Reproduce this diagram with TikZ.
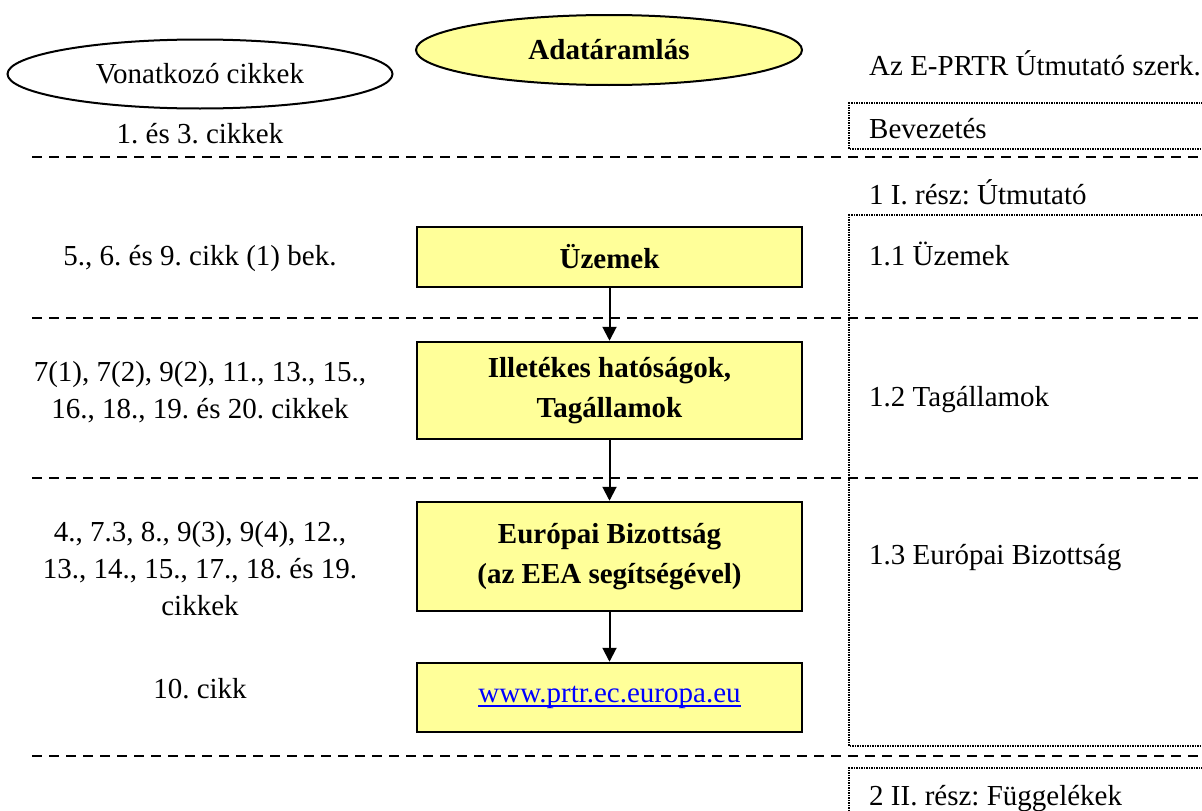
\documentclass[tikz,border=0pt]{standalone}
\usepackage{fontspec}
\setmainfont{Liberation Serif}
\usepackage{tikz}
\usetikzlibrary{positioning}
\usetikzlibrary{shapes.geometric}
\usetikzlibrary{arrows.meta}

\definecolor{boxyellow}{RGB}{255,255,153}
\definecolor{linkblue}{RGB}{0,0,255}
\frenchspacing
\newcommand{\weblink}[1]{{\color{linkblue}\setbox0\hbox{#1}\rlap{\rule[-4pt]{\wd0}{2pt}}\box0}}

\begin{document}
\begin{tikzpicture}
		[x=1pt, y=-1pt,
		 every node/.style={font=\fontsize{29}{37}\selectfont},
		 flowbox/.style={draw=black, line width=2.5pt, fill=boxyellow, minimum width=385pt, inner sep=0pt, align=center, font=\fontsize{29}{40}\selectfont\bfseries},
		 oval/.style={ellipse, draw=black, line width=2pt, minimum width=385pt, minimum height=69pt, inner sep=0pt},
		 cikk/.style={align=center, inner sep=0pt},
		 fejezet/.style={anchor=base west, inner sep=0pt},
		 sav/.style={dashed, line width=2pt, dash pattern=on 10pt off 7pt},
		 keret/.style={densely dotted, line width=1.5pt},
		 flow/.style={-{Triangle[width=14pt, length=14pt]}, line width=2pt}]
		\useasboundingbox (0,0) rectangle (1202,811);

		% column heads
		\node[oval] (vonatkozo) at (200,74) {Vonatkozó cikkek};
		\node[oval, fill=boxyellow, minimum width=386pt, minimum height=70pt] (adat) at (609,50) {\bfseries Adatáramlás};
		\node[fejezet] (szerk) at (869,75) {Az E-PRTR Útmutató szerk.};

		% separators
		\foreach \y in {157, 318, 478, 756}
			\draw[sav] (32,\y) -- (1202,\y);

		% guide outline
		\draw[keret] (1215,103) -| (849,149) -- (1215,149);
		\draw[keret] (1215,215) -| (849,746) -- (1215,746);
		\draw[keret] (1215,768) -| (849,830);

		\node[fejezet] (bev) at (869,138) {Bevezetés};
		\node[fejezet] (resz1) at (869,204) {1 I. rész: Útmutató};
		\node[fejezet] (uzemek11) at (869,265) {1.1 Üzemek};
		\node[fejezet] (tag12) at (869,406) {1.2 Tagállamok};
		\node[fejezet] (bizott13) at (869,564) {1.3 Európai Bizottság};
		\node[fejezet] (resz2) at (869,805) {2 II. rész: Függelékek};

		% articles
		\node[cikk, anchor=base] (c13) at (200,143) {1. és 3. cikkek};
		\node[cikk, anchor=base] (c569) at (200,265) {5., 6. és 9. cikk (1) bek.};
		\node[cikk] (c7) at (200,392) {7(1), 7(2), 9(2), 11., 13., 15.,\\16., 18., 19. és 20. cikkek};
		\node[cikk] (c4) at (200,569) {4., 7.3, 8., 9(3), 9(4), 12.,\\13., 14., 15., 17., 18. és 19.\\cikkek};
		\node[cikk, anchor=base] (c10) at (200,698) {10. cikk};

		% data flow
		\node[flowbox, minimum height=60pt] (uzem) at (609.5,257) {Üzemek};
		\node[flowbox, minimum height=97pt] (illet) at (609.5,390.5) {Illetékes hatóságok,\\Tagállamok};
		\node[flowbox, minimum height=109pt] (biz) at (609.5,556.5) {Európai Bizottság\\(az EEA segítségével)};
		\node[flowbox, minimum height=69pt, font=\fontsize{29}{37}\selectfont] (web) at (609.5,697.5) {\raisebox{4pt}{\weblink{www.prtr.ec.europa.eu}}};

		\draw[flow] (uzem) -- (illet);
		\draw[flow] (illet) -- (biz);
		\draw[flow] (biz) -- (web);
	\end{tikzpicture}
\end{document}
